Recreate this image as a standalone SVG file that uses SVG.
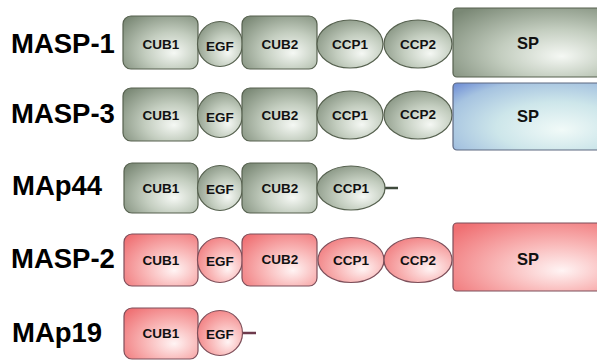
<svg xmlns="http://www.w3.org/2000/svg" width="597" height="360" viewBox="0 0 597 360">
<defs>
<radialGradient id="gG" cx="0.62" cy="0.62" r="0.8" fx="0.68" fy="0.7">
<stop offset="0" stop-color="#f5f8f4"/>
<stop offset="0.45" stop-color="#c3cdbf"/>
<stop offset="1" stop-color="#7a8875"/>
</radialGradient>
<radialGradient id="gP" cx="0.62" cy="0.62" r="0.8" fx="0.68" fy="0.7">
<stop offset="0" stop-color="#fff4f4"/>
<stop offset="0.45" stop-color="#f9b8b8"/>
<stop offset="1" stop-color="#ef6f72"/>
</radialGradient>
<radialGradient id="gB" cx="0.62" cy="0.62" r="0.85" fx="0.68" fy="0.7">
<stop offset="0" stop-color="#f1faf8"/>
<stop offset="0.45" stop-color="#cde6ea"/>
<stop offset="0.8" stop-color="#a6c3e0"/>
<stop offset="1" stop-color="#7190d6"/>
</radialGradient>
<style>
.g{fill:url(#gG);stroke:#56614f;stroke-width:1.2}
.p{fill:url(#gP);stroke:#7d4f5a;stroke-width:1.2}
.b{fill:url(#gB);stroke:#5d6880;stroke-width:1.2}
.lbl{font-family:"Liberation Sans",Arial,sans-serif;font-weight:bold;font-size:27.5px;fill:#000}
.d{font-family:"Liberation Sans",Arial,sans-serif;font-weight:bold;font-size:13.5px;fill:#111;text-anchor:middle;dominant-baseline:central}
.sp{font-family:"Liberation Sans",Arial,sans-serif;font-weight:bold;font-size:16.5px;fill:#111;text-anchor:middle;dominant-baseline:central}
.tg{stroke:#3f4a3c;stroke-width:2.5}
.tp{stroke:#6d3a4c;stroke-width:2.5}
</style>
</defs>

<g id="labels">
<text class="lbl" x="11" y="53">MASP-1</text>
<text class="lbl" x="11" y="123">MASP-3</text>
<text class="lbl" x="12" y="195">MAp44</text>
<text class="lbl" x="11" y="268">MASP-2</text>
<text class="lbl" x="12" y="342">MAp19</text>
</g>

<g id="connectors">
<line class="tg" x1="384" y1="188" x2="398" y2="188"/>
<line class="tp" x1="242" y1="333" x2="256" y2="333"/>
</g>

<g id="masp1">
<rect class="g" x="123" y="16" width="75" height="53" rx="8"/>
<text class="d" x="161" y="44">CUB1</text>
<circle class="g" cx="220" cy="44" r="22.5"/>
<text class="d" x="220" y="46">EGF</text>
<rect class="g" x="242" y="16" width="75" height="53" rx="8"/>
<text class="d" x="280" y="44">CUB2</text>
<ellipse class="g" cx="350" cy="44" rx="33" ry="24"/>
<text class="d" x="350" y="44">CCP1</text>
<ellipse class="g" cx="418" cy="44" rx="34" ry="24"/>
<text class="d" x="418" y="44">CCP2</text>
<rect class="g" x="453" y="8" width="160" height="69" rx="4"/>
<text class="sp" x="528" y="43">SP</text>
</g>

<g id="masp3">
<rect class="g" x="123" y="88" width="75" height="53" rx="8"/>
<text class="d" x="161" y="115">CUB1</text>
<circle class="g" cx="220" cy="115" r="22.5"/>
<text class="d" x="220" y="117">EGF</text>
<rect class="g" x="242" y="88" width="75" height="53" rx="8"/>
<text class="d" x="280" y="115">CUB2</text>
<ellipse class="g" cx="350" cy="115" rx="33" ry="24"/>
<text class="d" x="350" y="115">CCP1</text>
<ellipse class="g" cx="418" cy="115" rx="34" ry="24"/>
<text class="d" x="418" y="114">CCP2</text>
<rect class="b" x="453" y="83" width="160" height="67" rx="4"/>
<text class="sp" x="528" y="116">SP</text>
</g>

<g id="map44">
<rect class="g" x="124" y="163" width="74" height="50" rx="8"/>
<text class="d" x="161" y="188">CUB1</text>
<circle class="g" cx="220" cy="188" r="22.5"/>
<text class="d" x="220" y="189">EGF</text>
<rect class="g" x="242" y="163" width="75" height="50" rx="8"/>
<text class="d" x="280" y="188">CUB2</text>
<ellipse class="g" cx="351" cy="188" rx="34" ry="22"/>
<text class="d" x="351" y="188">CCP1</text>
</g>

<g id="masp2">
<rect class="p" x="124" y="234" width="74" height="52" rx="8"/>
<text class="d" x="161" y="260">CUB1</text>
<circle class="p" cx="220" cy="260" r="22.5"/>
<text class="d" x="220" y="261">EGF</text>
<rect class="p" x="242" y="234" width="75" height="52" rx="8"/>
<text class="d" x="280" y="259">CUB2</text>
<ellipse class="p" cx="351" cy="260" rx="33" ry="22.5"/>
<text class="d" x="351" y="260">CCP1</text>
<ellipse class="p" cx="418" cy="260" rx="34" ry="22.5"/>
<text class="d" x="418" y="260">CCP2</text>
<rect class="p" x="453" y="223" width="160" height="68" rx="4"/>
<text class="sp" x="528" y="259">SP</text>
</g>

<g id="map19">
<rect class="p" x="124" y="308" width="74" height="51" rx="8"/>
<text class="d" x="161" y="333">CUB1</text>
<circle class="p" cx="220" cy="333" r="22.5"/>
<text class="d" x="220" y="334">EGF</text>
</g>
</svg>
